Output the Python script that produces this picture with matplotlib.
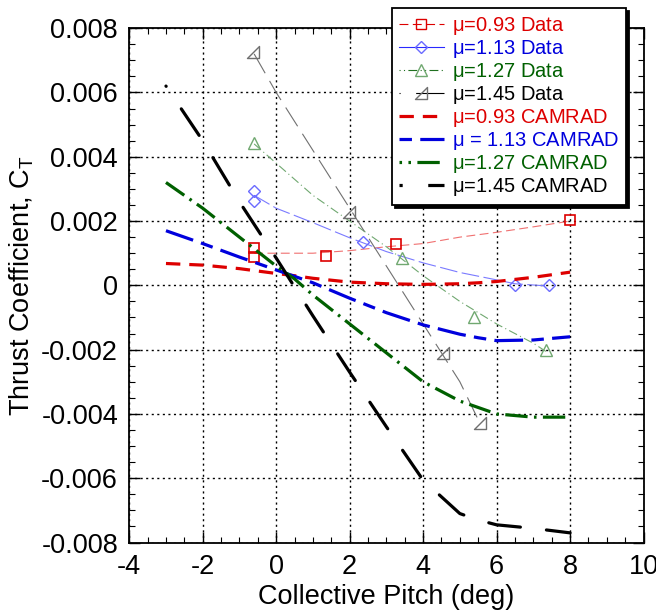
import matplotlib
matplotlib.use("Agg")
import matplotlib.pyplot as plt
from matplotlib.ticker import MultipleLocator
from matplotlib.path import Path

plt.rcParams['font.family'] = ['Liberation Sans', 'DejaVu Sans']
plt.rcParams['mathtext.fontset'] = 'custom'
plt.rcParams['mathtext.rm'] = 'Liberation Sans'

# measured data points (collective pitch deg, CT)
x93 = [-0.6, -0.6, 1.35, 3.26, 8.0]
y93 = [0.00115, 0.00089, 0.00092, 0.00128, 0.00203]
x113 = [-0.6, -0.6, 2.36, 6.5, 7.43]
y113 = [0.00295, 0.00262, 0.00136, 0.0, 0.0]
x127 = [-0.6, 3.42, 5.39, 7.34]
y127 = [0.00444, 0.00084, -0.0010, -0.00201]
x145 = [-0.62, 1.99, 4.55, 5.55]
y145 = [0.00725, 0.00229, -0.0021, -0.00427]

# thin trend lines through the data
fx93 = [-0.6, 0, 1, 2, 3, 4, 5, 6, 7, 8]
fy93 = [0.001, 0.001, 0.001, 0.00108, 0.0012, 0.0013, 0.0015, 0.00165, 0.00182, 0.002]
fx113 = [-0.6, 0, 1, 2, 3, 4, 5, 6, 6.5, 7.4]
fy113 = [0.0028, 0.0024, 0.00195, 0.00148, 0.00105, 0.0007, 0.0004, 0.00017, 0.00005, -0.00002]
fx127 = [-0.6, 0, 1, 2, 3, 4, 5, 6, 7, 7.4]
fy127 = [0.0044, 0.0038, 0.0028, 0.002, 0.0012, 0.0003, -0.0005, -0.0012, -0.0018, -0.0021]
fx145 = [-0.6, 0, 1, 2, 3, 4, 5, 5.55]
fy145 = [0.0072, 0.006, 0.0042, 0.0024, 0.0006, -0.0012, -0.003, -0.0043]

# CAMRAD predictions
cx = [-3, -2, -1, 0, 0.5, 1, 2, 3, 4, 5, 5.5, 6, 7, 8]
c93 = [0.00068, 0.00063, 0.00052, 0.00037, 0.0003, 0.00022, 0.0001, 0.00005, 0.00003, 0.00005, 0.00008, 0.00012, 0.00025, 0.00041]
c113 = [0.0017, 0.0013, 0.00088, 0.00048, 0.00028, 0.00008, -0.0004, -0.00085, -0.00123, -0.00152, -0.00163, -0.00172, -0.0017, -0.0016]
c127 = [0.0032, 0.0024, 0.0015, 0.0006, 0.0002, -0.0003, -0.0012, -0.0021, -0.003, -0.0036, -0.0038, -0.004, -0.0041, -0.0041]
c145 = [0.0062, 0.0045, 0.0026, 0.00085, -0.00005, -0.00095, -0.0027, -0.0044, -0.00606, -0.0071, -0.0073, -0.00745, -0.00756, -0.0077]

xticks = [-4, -2, 0, 2, 4, 6, 8, 10]
yticks = [-0.008, -0.006, -0.004, -0.002, 0, 0.002, 0.004, 0.006, 0.008]
ylabels = ['-0.008', '-0.006', '-0.004', '-0.002', '0', '0.002', '0.004', '0.006', '0.008']

rtri = Path([(-1, -1), (1, -1), (1, 1), (-1, -1)],
            [Path.MOVETO, Path.LINETO, Path.LINETO, Path.CLOSEPOLY])

fig = plt.figure(figsize=(6.56, 6.13), dpi=100)
ax = fig.add_axes([0.197, 0.115, 0.784, 0.839])

lwt = 0.8
lwc = 2.3

# data: thin trend lines + open markers
ax.plot(fx93, fy93, color='#f07070', lw=lwt, linestyle=(0, (8, 4)))
ax.plot(fx113, fy113, color='#7a7aff', lw=lwt, linestyle=(0, (16, 4)))
ax.plot(fx127, fy127, color='#70a870', lw=lwt, linestyle=(0, (8, 3, 1, 3)))
ax.plot(fx145, fy145, color='#707070', lw=lwt, linestyle=(0, (20, 8)))
ax.plot(x93, y93, 's', ms=7, mfc='none', mec='#dd0000', mew=1.2)
ax.plot(x113, y113, 'D', ms=6, mfc='none', mec='#6a6aff', mew=1.0)
ax.plot(x127, y127, '^', ms=8, mfc='none', mec='#70a870', mew=1.0)
ax.plot(x145, y145, marker=rtri, ls='none', ms=8, mfc='none', mec='#707070', mew=1.0)

# CAMRAD
ax.plot(cx, c93, color='#dd0000', lw=lwc, linestyle=(0, (4.5, 2.8)))
ax.plot(cx, c113, color='#0000dd', lw=lwc, linestyle=(0, (9, 2.6, 3.9, 2.6)))
ax.plot(cx, c127, color='#006000', lw=lwc, linestyle=(0, (7, 2, 0.8, 2)))
ax.plot(cx, c145, color='black', lw=lwc, dash_capstyle='round',
        linestyle=(0, (0.1, 8.5) + (10, 8.2) * 60))

ax.set_xlim(-4, 10)
ax.set_ylim(-0.008, 0.008)
ax.set_xticks(xticks)
ax.set_xticklabels([str(v) for v in xticks])
ax.set_yticks(yticks)
ax.set_yticklabels(ylabels)
ax.xaxis.set_minor_locator(MultipleLocator(0.5))
ax.yaxis.set_minor_locator(MultipleLocator(0.0005))
ax.tick_params(which='both', direction='in', top=True, right=True, labelsize=19.5)
ax.tick_params(which='major', length=8, width=1, pad=8)
ax.tick_params(which='minor', length=4.5, width=0.8)
ax.grid(True, which='major', color='black', lw=1, linestyle=(0, (1.5, 2.5)))
for s in ax.spines.values():
    s.set_linewidth(1.3)

ax.set_xlabel('Collective Pitch (deg)', fontsize=19.5, labelpad=3)
ax.set_ylabel(r'Thrust Coefficient, C$_\mathregular{T}$', fontsize=19.5, labelpad=4)

# legend
h = []
h.append(plt.Line2D([], [], color='#dd0000', lw=lwt, ls=(0, (8, 4)), marker='s', ms=7,
                    mfc='none', mec='#dd0000'))
h.append(plt.Line2D([], [], color='#2a2aff', lw=lwt, marker='D', ms=6, mfc='none', mec='#6a6aff'))
h.append(plt.Line2D([], [], color='#207020', lw=lwt, ls=(0, (1, 3, 1, 3, 8, 3)), marker='^', ms=8,
                    mfc='none', mec='#70a870'))
h.append(plt.Line2D([], [], color='black', lw=lwt, ls=(0, (1, 14, 30, 1)), marker=rtri, ms=8,
                    mfc='none', mec='#707070'))
h.append(plt.Line2D([], [], color='#dd0000', lw=lwc, ls=(0, (4.5, 2.8))))
h.append(plt.Line2D([], [], color='#0000dd', lw=lwc, ls=(0, (3.9, 2.6, 9, 2.6))))
h.append(plt.Line2D([], [], color='#006000', lw=lwc, ls=(0, (0.8, 2, 0.8, 2, 7, 2))))
h.append(plt.Line2D([], [], color='black', lw=lwc, ls=(0, (1, 8, 12, 2))))
labels = [r'$\mathregular{\mu}$=0.93 Data', r'$\mathregular{\mu}$=1.13 Data',
          r'$\mathregular{\mu}$=1.27 Data', r'$\mathregular{\mu}$=1.45 Data',
          r'$\mathregular{\mu}$=0.93 CAMRAD', r'$\mathregular{\mu}$ = 1.13 CAMRAD',
          r'$\mathregular{\mu}$=1.27 CAMRAD', r'$\mathregular{\mu}$=1.45 CAMRAD']
tcol = ['#dd0000', '#0000dd', '#006000', 'black', '#dd0000', '#0000dd', '#006000', 'black']
leg = fig.legend(h, labels, loc='upper left', bbox_to_anchor=(0.598, 0.987),
                 borderaxespad=0, fontsize=14.5, frameon=True, fancybox=False,
                 edgecolor='black', framealpha=1, handlelength=2.2, handletextpad=0.4,
                 labelspacing=0.05, borderpad=0.35, shadow={'color': 'black', 'alpha': 1})
leg.get_frame().set_linewidth(1.3)
for t, c in zip(leg.get_texts(), tcol):
    t.set_color(c)

fig.savefig('out.png', dpi=100)
